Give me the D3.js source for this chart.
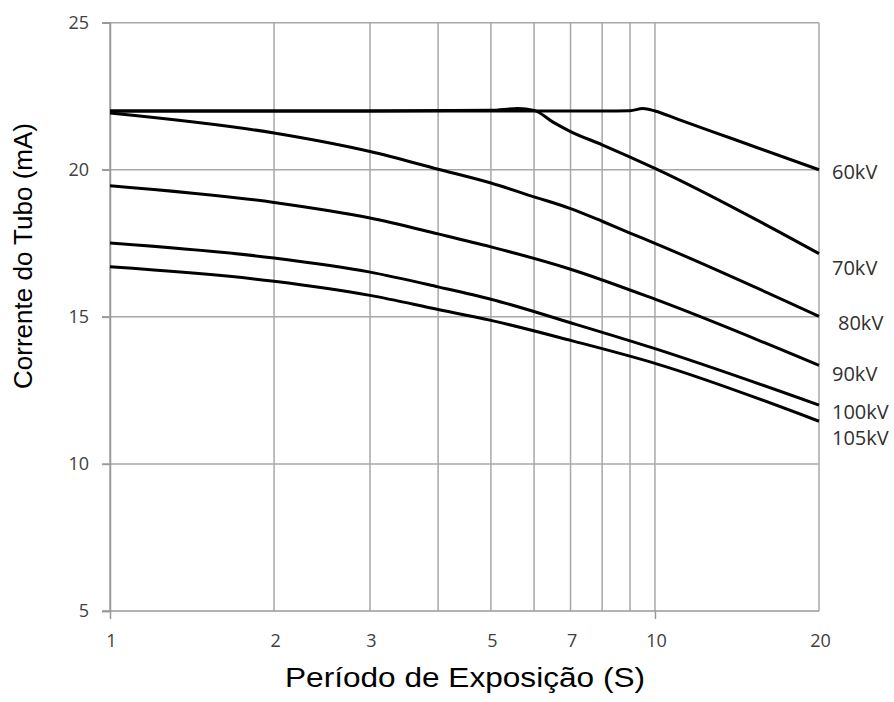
<!DOCTYPE html>
<html>
<head>
<meta charset="utf-8">
<script src="https://cdn.jsdelivr.net/npm/d3@7"></script>
<style>
  html, body { margin: 0; padding: 0; background: #fff; }
  svg { display: block; }
</style>
</head>
<body>
<svg id="chart" width="894" height="702"></svg>
<script>
// ---------- data ----------
const seriesNames = ["60kV", "70kV", "80kV", "90kV", "100kV", "105kV"];
const s60  = [[1,22],[2,22],[5,22],[8,22],[9,22.01],[9.5,22.08],[10,22.0],[11,21.72],[14,21.03],[20,20.0]];
const s70  = [[1,22],[3,22],[5,22.02],[5.6,22.08],[6,22.02],[6.5,21.62],[7,21.3],[8,20.85],[10,20.05],[20,17.15]];
const s80  = [[1,21.93],[2,21.25],[3,20.62],[4,20.02],[5,19.55],[6,19.08],[7,18.68],[8,18.25],[9,17.85],[10,17.5],[20,15.02]];
const s90  = [[1,19.46],[2,18.89],[3,18.36],[4,17.82],[5,17.38],[7,16.62],[10,15.6],[20,13.35]];
const s100 = [[1,17.51],[2,17.0],[3,16.52],[4,16.02],[5,15.6],[7,14.8],[10,13.92],[20,12.0]];
const s105 = [[1,16.7],[2,16.21],[3,15.73],[4,15.25],[5,14.88],[7,14.2],[10,13.42],[20,11.45]];
const seriesValues = [s60, s70, s80, s90, s100, s105];
const labelValues = [19.94, 16.68, 14.81, 13.08, 11.76, 10.88];  // y value where each label sits
const xGridValues = [1,2,3,4,5,6,7,8,9,10,20];
const xTickLabels = [1,2,3,5,7,10,20];
const xMajorTicks = [1,10];
const yTickValues = [5,10,15,20,25];
const xTitle = "Período de Exposição (S)";
const yTitle = "Corrente do Tubo (mA)";

// ---------- layout ----------
const svg = d3.select("#chart");
const x = d3.scaleLog().domain([1, 20]).range([110, 819]);
const y = d3.scaleLinear().domain([5, 25]).range([611, 22.7]);

const gridColor = "#a8a8a8";
const tickFont = "'Open Sans', sans-serif";

// horizontal grid lines (10..25)
svg.append("g").selectAll("line")
  .data(yTickValues.filter(v => v > 5))
  .join("line")
  .attr("x1", 102).attr("x2", x(20))
  .attr("y1", d => y(d)).attr("y2", d => y(d))
  .attr("stroke", gridColor).attr("stroke-width", 1.5);

// vertical grid lines
svg.append("g").selectAll("line")
  .data(xGridValues)
  .join("line")
  .attr("x1", d => x(d)).attr("x2", d => x(d))
  .attr("y1", y(25)).attr("y2", y(5))
  .attr("stroke", gridColor).attr("stroke-width", 1.5);

// bottom axis
const xAxis = d3.axisBottom(x)
  .tickValues(xMajorTicks)
  .tickSize(8)
  .tickFormat("");
const gx = svg.append("g").attr("transform", `translate(0,${y(5)})`).call(xAxis);
gx.select(".domain").attr("stroke", "#999").attr("stroke-width", 1.5).attr("d", `M102,0H${x(20)}`);
gx.selectAll(".tick line").attr("stroke", "#999").attr("stroke-width", 1.5);

// left axis
const yAxis = d3.axisLeft(y).tickValues(yTickValues).tickSize(8).tickFormat("");
const gy = svg.append("g").attr("transform", `translate(${x(1)},0)`).call(yAxis);
gy.select(".domain").attr("stroke", "#999").attr("stroke-width", 1.5);
gy.selectAll(".tick line").attr("stroke", "#999").attr("stroke-width", 1.5);

// y tick labels
svg.append("g").selectAll("text")
  .data(yTickValues)
  .join("text")
  .attr("x", 89)
  .attr("y", d => y(d))
  .attr("dy", "0.36em")
  .attr("text-anchor", "end")
  .attr("font-family", tickFont)
  .attr("font-size", 18)
  .attr("fill", "#404040")
  .text(d => d);

// x tick labels
svg.append("g").selectAll("text")
  .data(xTickLabels)
  .join("text")
  .attr("x", d => x(d) + 1.5)
  .attr("y", 647)
  .attr("text-anchor", "middle")
  .attr("font-family", tickFont)
  .attr("font-size", 18)
  .attr("fill", "#404040")
  .text(d => d);

// curves
const line = d3.line()
  .x(d => x(d[0]))
  .y(d => y(d[1]))
  .curve(d3.curveMonotoneX);

svg.append("g").selectAll("path")
  .data(seriesValues)
  .join("path")
  .attr("d", line)
  .attr("fill", "none")
  .attr("stroke", "#000")
  .attr("stroke-width", 3)
  .attr("stroke-linejoin", "round");

// series labels
svg.append("g").selectAll("text")
  .data(seriesNames)
  .join("text")
  .attr("x", (d, i) => i === 2 ? 838 : 832)
  .attr("y", (d, i) => y(labelValues[i]))
  .attr("dy", "0.36em")
  .attr("font-family", tickFont)
  .attr("font-size", 20)
  .attr("fill", "#303030")
  .text(d => d);

// axis titles
svg.append("text")
  .attr("x", 465)
  .attr("y", 687)
  .attr("text-anchor", "middle")
  .attr("font-family", "'Liberation Sans', Arial, sans-serif")
  .attr("font-size", 28)
  .attr("textLength", 360)
  .attr("lengthAdjust", "spacingAndGlyphs")
  .attr("fill", "#000")
  .text(xTitle);

svg.append("text")
  .attr("transform", "translate(32,256) rotate(-90)")
  .attr("text-anchor", "middle")
  .attr("font-family", "'Liberation Sans', Arial, sans-serif")
  .attr("font-size", 26)
  .attr("fill", "#000")
  .text(yTitle);
</script>
</body>
</html>
